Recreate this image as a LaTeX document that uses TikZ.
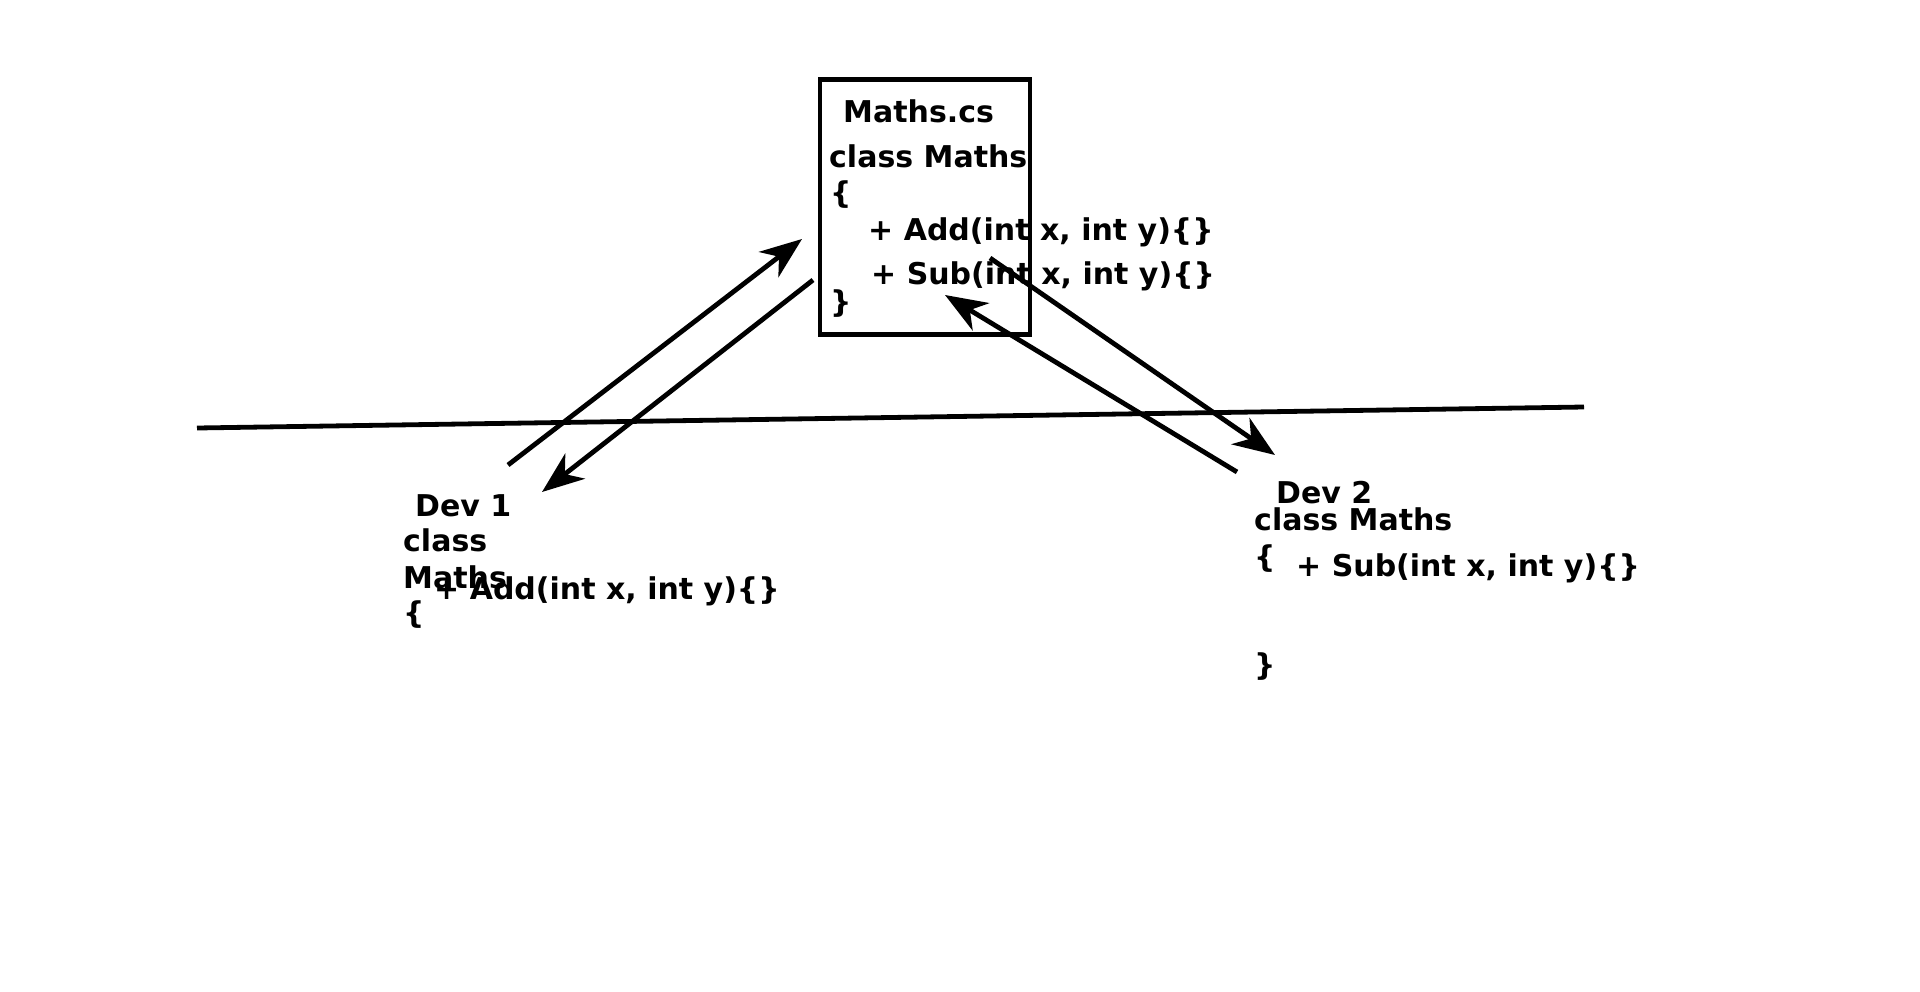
\documentclass[tikz,border=0pt]{standalone}
\usepackage{fontspec}
\setmainfont{DejaVu Sans}
\usetikzlibrary{arrows.meta,positioning}
\def\figfontsize{30}
\def\figlineskip{36}
\def\figlinewidth{4.8pt}
\def\figboxwidth{210pt}
\def\figboxheight{255pt}

\begin{document}
\begin{tikzpicture}[
  x=1pt,y=-1pt,
  txt/.style={anchor=base west,inner sep=0pt,font=\fontsize{\figfontsize}{\figlineskip}\selectfont\bfseries},
  file/.style={draw,line width=\figlinewidth,minimum width=\figboxwidth,minimum height=\figboxheight,anchor=north west,inner sep=0pt},
  link/.style={line width=\figlinewidth,-{Stealth[length=42pt,width=32pt,inset=13pt]}},
]
\useasboundingbox (0,0) rectangle (1920,991);

%%%%%%%%%%%%%%%
% Shared File
%%%%%%%%%%%%%%%
\node (file) [file] at (817.5,77) {};
\node (ftitle) [txt] at (843,122) {Maths.cs};
\node (fclass) [txt] at (829,167) {class Maths};
\node (fopen) [txt] at (830,203) {\{};
\node (fadd) [txt] at (868,240) {+ Add(int x, int y)\{\}};
\node (fsub) [txt] at (871,284) {+ Sub(int x, int y)\{\}};
\node (fclose) [txt] at (830,312) {\}};

%%%%%%%%%%%%%%%
% Dev 1
%%%%%%%%%%%%%%%
\node (d1title) [txt] at (415,516) {Dev 1};
\node (d1class) [txt] at (403,551) {class};
\node (d1name) [txt] at (403,588) {Maths};
\node (d1open) [txt] at (403,623) {\{};
\node (d1add) [txt] at (434,599) {+ Add(int x, int y)\{\}};

%%%%%%%%%%%%%%%
% Dev 2
%%%%%%%%%%%%%%%
\node (d2title) [txt] at (1276,503) {Dev 2};
\node (d2class) [txt] at (1254,530) {class Maths};
\node (d2open) [txt] at (1254,567) {\{};
\node (d2sub) [txt] at (1296,576) {+ Sub(int x, int y)\{\}};
\node (d2close) [txt] at (1254,675) {\}};

%%%%%%%%%%%%%%%
% Separator
%%%%%%%%%%%%%%%
\coordinate (sepl) at (197,428);
\coordinate (sepr) at (1584,407);
\draw [line width=\figlinewidth] (sepl) -- (sepr);

%%%%%%%%%%%%%%%
% Links
%%%%%%%%%%%%%%%
\coordinate (d1out) at (508,465);
\coordinate (fin) at (802,239);
\coordinate (fout) at (813,280);
\coordinate (d1in) at (542,492);
\coordinate (fout2) at (990,258);
\coordinate (d2in) at (1275,455);
\coordinate (d2out) at (1237,472);
\coordinate (fin2) at (945,295);

\draw [link] (d1out) -- (fin);
\draw [link] (fout) -- (d1in);
\draw [link] (fout2) -- (d2in);
\draw [link] (d2out) -- (fin2);

\end{tikzpicture}
\end{document}
